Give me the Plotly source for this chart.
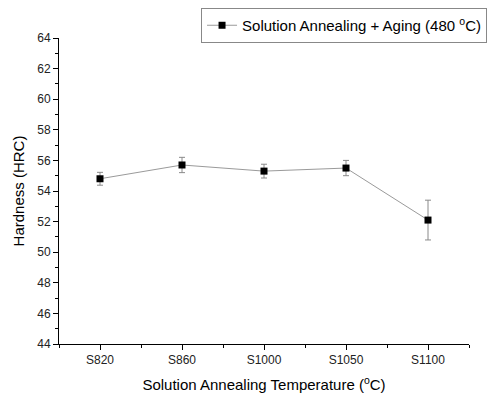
import plotly.graph_objects as go

categories = ["S820", "S860", "S1000", "S1050", "S1100"]
hardness = [54.8, 55.7, 55.3, 55.5, 52.1]
errors = [0.42, 0.5, 0.45, 0.5, 1.3]
series_name = "Solution Annealing + Aging (480 <sup>o</sup>C)"

xpos = list(range(len(categories)))

fig = go.Figure()
fig.add_trace(go.Scatter(
    x=xpos, y=hardness, name=series_name, mode="lines+markers",
    line=dict(color="#9a9a9a", width=1),
    marker=dict(symbol="square", size=7, color="black"),
    error_y=dict(type="data", array=errors, visible=True, color="#8a8a8a", thickness=1, width=3),
    showlegend=True,
))

font = "Arial, Liberation Sans, sans-serif"
# page body has an 8px default margin, so the figure is sized/offset to compensate
fig.update_layout(
    width=490, height=385,
    margin=dict(l=51, r=29, t=30, b=49, autoexpand=False),
    plot_bgcolor="white", paper_bgcolor="white",
    font=dict(family=font, color="black"),
    legend=dict(x=1.044, y=1.098, xanchor="right", yanchor="top",
                bordercolor="#888", borderwidth=1, font=dict(size=15, family=font),
                bgcolor="white", itemwidth=30, tracegroupgap=0),
    xaxis=dict(range=[-0.5, 4.5], tickmode="array", tickvals=xpos, ticktext=categories,
               showgrid=False, zeroline=False, showline=True, linecolor="black", linewidth=1,
               ticks="outside", ticklen=5, tickcolor="black", tickfont=dict(size=12, color="#222"),
               minor=dict(tick0=0.5, dtick=1, ticks="outside", ticklen=3, tickcolor="black"),
               title=dict(text="Solution Annealing Temperature (<sup>o</sup>C)", font=dict(size=15), standoff=14)),
    yaxis=dict(range=[44, 64], dtick=2, tick0=44,
               showgrid=False, zeroline=False, showline=True, linecolor="black", linewidth=1,
               ticks="outside", ticklen=5, tickcolor="black", tickfont=dict(size=12, color="#222"),
               minor=dict(dtick=1, ticks="outside", ticklen=3, tickcolor="black"),
               title=dict(text="Hardness (HRC)", font=dict(size=15), standoff=8)),
)

fig.write_html("out.html")
